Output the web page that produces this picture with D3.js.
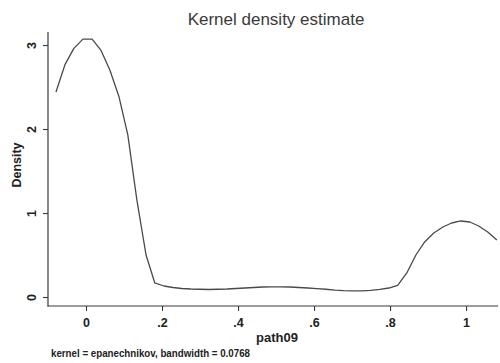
<!DOCTYPE html>
<html><head><meta charset="utf-8">
<script src="https://cdn.jsdelivr.net/npm/d3@7"></script>
<style>body{margin:0;background:#fff}svg{display:block}text{font-family:"Liberation Sans",Arial,sans-serif}</style>
</head><body>
<script>
const xValues = [-0.079,-0.055,-0.032,-0.008,0.016,0.039,0.063,0.087,0.110,0.134,0.158,0.181,0.205,0.229,0.252,0.276,0.300,0.323,0.347,0.371,0.394,0.418,0.442,0.465,0.489,0.513,0.536,0.560,0.584,0.607,0.631,0.655,0.678,0.702,0.726,0.749,0.773,0.797,0.820,0.844,0.868,0.891,0.915,0.939,0.962,0.986,1.010,1.033,1.057,1.081];
const density = [2.44,2.77,2.96,3.07,3.07,2.94,2.70,2.38,1.93,1.15,0.50,0.167,0.131,0.113,0.101,0.095,0.092,0.089,0.092,0.095,0.101,0.107,0.113,0.119,0.121,0.121,0.119,0.113,0.107,0.099,0.092,0.083,0.077,0.074,0.074,0.080,0.092,0.107,0.137,0.286,0.50,0.655,0.762,0.833,0.881,0.905,0.893,0.845,0.774,0.679];
const xTicks = [0,0.2,0.4,0.6,0.8,1];
const xTickLabels = ["0",".2",".4",".6",".8","1"];
const yTicks = [0,1,2,3];
const yTickLabels = ["0","1","2","3"];
const title = "Kernel density estimate";
const xTitle = "path09";
const yTitle = "Density";
const note = "kernel = epanechnikov, bandwidth = 0.0768";

const W = 500, H = 363;
const svg = d3.select("body").append("svg").attr("width", W).attr("height", H);
const x = d3.scaleLinear().domain([-0.1, 1.084]).range([48, 498]);
const y = d3.scaleLinear().domain([0, 3]).range([297, 45]);
const axisColor = "#3a3a3a";

// y axis
const yAxisX = 48;
svg.append("line").attr("x1", yAxisX).attr("x2", yAxisX).attr("y1", 32).attr("y2", 306.5)
  .attr("stroke", axisColor).attr("stroke-width", 1.2);
const yAx = svg.append("g").attr("transform", `translate(${yAxisX},0)`)
  .call(d3.axisLeft(y).tickValues(yTicks).tickSize(5).tickFormat((d,i)=>yTickLabels[i]));
yAx.select(".domain").remove();
yAx.selectAll(".tick line").attr("stroke", axisColor).attr("stroke-width", 1.1);
yAx.selectAll(".tick text").remove();
yAx.selectAll(".tick").append("text")
  .attr("transform", "translate(-16,0) rotate(-90)")
  .attr("text-anchor", "middle").attr("dy", "0.35em")
  .attr("font-size", 12.5).attr("font-weight", "bold").attr("fill", "#222")
  .text((d,i)=>yTickLabels[i]);

// x axis
const xAxisY = 306;
svg.append("line").attr("x1", 47.5).attr("x2", 498).attr("y1", xAxisY).attr("y2", xAxisY)
  .attr("stroke", axisColor).attr("stroke-width", 1.2);
const xAx = svg.append("g").attr("transform", `translate(0,${xAxisY})`)
  .call(d3.axisBottom(x).tickValues(xTicks).tickSize(5).tickFormat((d,i)=>xTickLabels[i]));
xAx.select(".domain").remove();
xAx.selectAll(".tick line").attr("stroke", axisColor).attr("stroke-width", 1.1);
xAx.selectAll(".tick text").attr("y", 12).attr("dy", "0.71em")
  .attr("font-size", 12.5).attr("font-weight", "bold").attr("fill", "#222")
  .attr("font-family", '"Liberation Sans",Arial,sans-serif');

// curve
const pts = xValues.map((v,i)=>[v, density[i]]);
svg.append("path").datum(pts)
  .attr("d", d3.line().x(d=>x(d[0])).y(d=>y(d[1])).curve(d3.curveLinear))
  .attr("fill", "none").attr("stroke", "#4a4a4a").attr("stroke-width", 1.3)
  .attr("stroke-linejoin", "round");

// titles
svg.append("text").attr("x", 276).attr("y", 25).attr("text-anchor", "middle")
  .attr("font-size", 17).attr("fill", "#3a3a3a").text(title);
svg.append("text").attr("x", 277).attr("y", 342).attr("text-anchor", "middle")
  .attr("font-size", 13).attr("font-weight", "bold").attr("fill", "#222").text(xTitle);
svg.append("text").attr("transform", "translate(21,165) rotate(-90)").attr("text-anchor", "middle")
  .attr("font-size", 12.5).attr("font-weight", "bold").attr("fill", "#222").text(yTitle);
svg.append("text").attr("x", 51).attr("y", 357)
  .attr("font-size", 10).attr("font-weight", "bold").attr("fill", "#222")
  .attr("textLength", 199).attr("lengthAdjust", "spacingAndGlyphs").text(note);
</script>
</body></html>
